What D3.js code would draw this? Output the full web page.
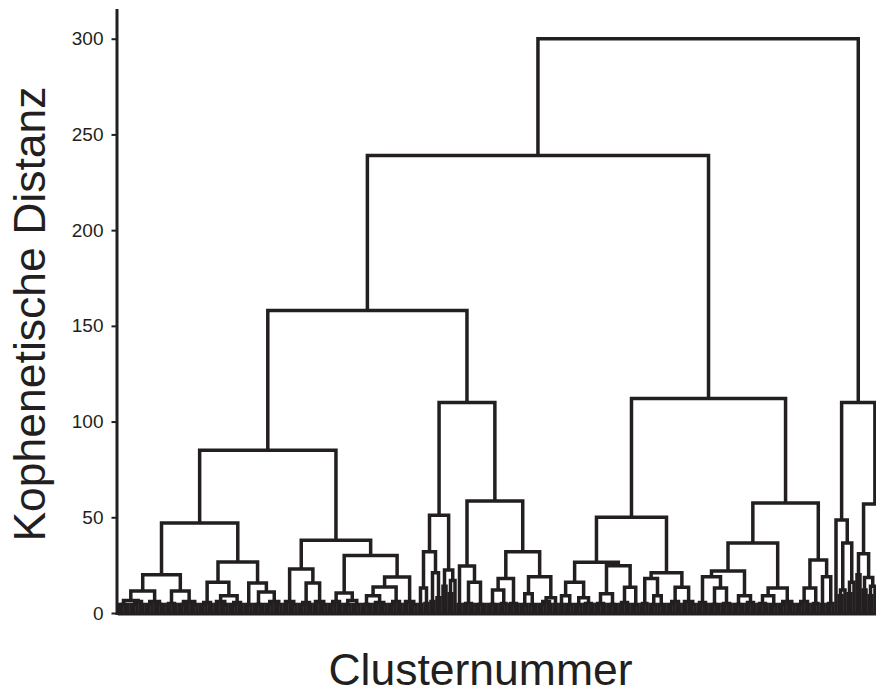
<!DOCTYPE html>
<html>
<head>
<meta charset="utf-8">
<script src="https://cdn.jsdelivr.net/npm/d3@7"></script>
<style>
  html, body { margin: 0; padding: 0; background: #ffffff; }
  svg { display: block; }
</style>
</head>
<body>
<svg id="chart" width="876" height="693"></svg>
<script>
// Axis annotation
const yTickValues = [0, 50, 100, 150, 200, 250, 300];
const yTitle = "Kophenetische Distanz";
const xTitle = "Clusternummer";

// Cluster tree in a compact nested notation:
//   o          = a single cluster (leaf)
//   (A B)h     = merge of A and B at cophenetic distance h
// Whitespace is ignored.
const cladeC1a = `(
  (
    ( (((oo)4.5(oo)4.5)4.5(((oo)4.5o)4.5(oo)4.5)6)6.5  (((oo)4.5o)4.5((oo)4.5(oo)4.5)4.5)6 )11.5
    ( ((oo)4.5(oo)4.5)5  (((oo)4.5(oo)4.5)4.5((oo)4.5o)4.5)6 )11.5
  )20
  (
    ( (((oo)4.5o)4.5(oo)4.5)5.5  ( ((oo)4.5((oo)4.5o)4.5)6  (((oo)4.5o)4.5(oo)4.5)5.5 )9 )16
    ( ((oo)4.5o)4.5  ( ((oo)4.5(oo)4.5)4.5  (((oo)4.5o)4.5((oo)4.5o)4.5)6 )11 )15.7
  )26.7
)47`;

const cladeC1b = `(
  ( ((oo)4.5((oo)4.5o)4.5)6  ( (((oo)4.5o)4.5(oo)4.5)5.5  ((oo)4.5((oo)4.5o)4.5)6 )15.7 )23
  (
    ( (((oo)4.5o)4.5(oo)4.5)6  (((oo)4.5o)4.5((oo)4.5o)4.5)6.5 )10.5
    (
      ( ( ((oo)4.5(oo)4.5)4.5  ((oo)4.5((oo)4.5o)4.5)5.5 )9  (((oo)4.5o)4.5(oo)4.5)6 )13.6
      ((oo)4.5((oo)4.5o)4.5)6
    )18.8
  )30
)38`;

const cladeC2 = `(
  (
    ( ((oo)4.5(oo)5)13  ((oo)6(oo)8)21 )32
    ( (oo)14  ((oo)10o)17 )22.5
  )51
  (
    ( (oo)4.5  ( ((oo)4.5(oo)4.5)5  ((oo)4.5(oo)4.5)4.5 )16 )24.5
    (
      ( ( ((oo)4.5(oo)4.5)4.5  ((oo)4.5o)5 )12  ((oo)4.5(oo)4.5)5 )18
      ( ( ((oo)4.5o)4.5  (o(oo)4.5)4.5 )10  ( (((oo)4.5o)4.5(oo)4.5)6  (oo)4.5 )8 )19
    )32
  )58.5
)110`;

const cladeD1 = `(
  (
    ( ( (oo)4.5  ((oo)4.5o)4.5 )9  ( ((oo)4.5o)4.5  ((oo)4.5(oo)4.5)5 )8 )16
    ( ( ((oo)4.5(oo)4.5)5  ((oo)4.5(oo)4.5)4.5 )10  ( ((oo)4.5(oo)4.5)5.5  ((oo)4.5o)4.5 )13.5 )24.7
  )26.5
  (
    ( ((oo)4.5o)5  ( ((oo)4.5o)4.5  (o(oo)4.5)4.5 )9 )18
    ( (((oo)4.5o)4.5(oo)4.5)6  ((oo)4.5((oo)4.5o)4.5)6 )13.5
  )21
)50`;

const cladeD2 = `(
  (
    (
      ( ((oo)4.5(oo)4.5)5.5  ( ((oo)4.5(oo)4.5)4.5  ((oo)4.5(oo)4.5)5 )13 )19
      ( ((oo)4.5(oo)4.5)4.5  ((oo)4.5(oo)4.5)5.5 )9
    )22
    ( ( ((oo)4.5(oo)4.5)5  ((oo)4.5o)4.5 )9  (((oo)4.5o)4.5((oo)4.5o)4.5)6 )13
  )36.6
  (
    ( (((oo)4.5o)4.5(oo)4.5)6  ((oo)4.5o)5 )13
    ( (oo)4.5  ((oo)4.5o)5 )19
  )27.7
)57.5`;

const cladeB = `(
  ( o  ( ((oo)9o)12  ((oo)10o)16 )36.6 )48.6
  (
    ( (oo)20  ((oo)12((oo)9o)14)18.5 )31
    ( ((oo)10o)14  ((oo)8o)12 )30
  )57
)110`;

const treeSource =
  `((((${cladeC1a}${cladeC1b})85${cladeC2})158(${cladeD1}${cladeD2})112)239${cladeB})300`;

// Parse the nested notation into {height, children}
function parseTree(src) {
  const s = src.replace(/\s+/g, "");
  let i = 0;
  function node() {
    if (s[i] === "o") { i++; return { height: 0 }; }
    if (s[i] !== "(") throw new Error("unexpected '" + s[i] + "' at " + i);
    i++;
    const left = node();
    const right = node();
    if (s[i] !== ")") throw new Error("expected ')' at " + i);
    i++;
    const m = /^\d+(\.\d+)?/.exec(s.slice(i));
    i += m[0].length;
    return { height: +m[0], children: [left, right] };
  }
  return node();
}

const ink = "#231f20";
const font = "'Liberation Sans', Arial, sans-serif";
const svg = d3.select("#chart");

const root = d3.hierarchy(parseTree(treeSource));
const leafCount = root.leaves().length;

// Leaves evenly spaced; each merge centred over its two branches
d3.cluster().size([1, 1]).separation(() => 1)(root);

const x = d3.scaleLinear().domain([0, 1]).range([117.5, 117.5 + 3 * leafCount]);
const y = d3.scaleLinear().domain([0, 315]).range([613, 10]);

// Dendrogram links: one bracket per merge
const merges = root.descendants().filter(d => d.children);
svg.append("g")
  .attr("fill", "none")
  .attr("stroke", ink)
  .attr("stroke-width", 3.5)
  .attr("stroke-linejoin", "miter")
  .selectAll("path")
  .data(merges)
  .join("path")
  .attr("d", d => {
    const [l, r] = d.children;
    return `M${x(l.x)},${y(l.data.height)}V${y(d.data.height)}H${x(r.x)}V${y(r.data.height)}`;
  });

// X axis: baseline only
const xAxis = svg.append("g")
  .attr("transform", "translate(0,613.5)")
  .call(d3.axisBottom(x).tickValues([]).tickSizeOuter(0));
xAxis.select(".domain").attr("stroke", ink).attr("stroke-width", 3);

// Y axis
const yAxis = svg.append("g")
  .attr("transform", "translate(116.5,0)")
  .call(d3.axisLeft(y).tickValues(yTickValues).tickSize(5).tickSizeOuter(0).tickPadding(8));
yAxis.select(".domain").attr("stroke", ink).attr("stroke-width", 3).attr("stroke-linecap", "square");
yAxis.selectAll(".tick line").attr("stroke", ink).attr("stroke-width", 2);
yAxis.selectAll(".tick text")
  .attr("fill", ink)
  .style("font-family", font)
  .style("font-size", "19px");

// Axis titles
svg.append("text")
  .attr("transform", "translate(45,314) rotate(-90)")
  .attr("text-anchor", "middle")
  .attr("fill", ink)
  .style("font-family", font)
  .style("font-size", "44.5px")
  .text(yTitle);

svg.append("text")
  .attr("x", 480.5)
  .attr("y", 685)
  .attr("text-anchor", "middle")
  .attr("fill", ink)
  .style("font-family", font)
  .style("font-size", "44.5px")
  .text(xTitle);
</script>
</body>
</html>
